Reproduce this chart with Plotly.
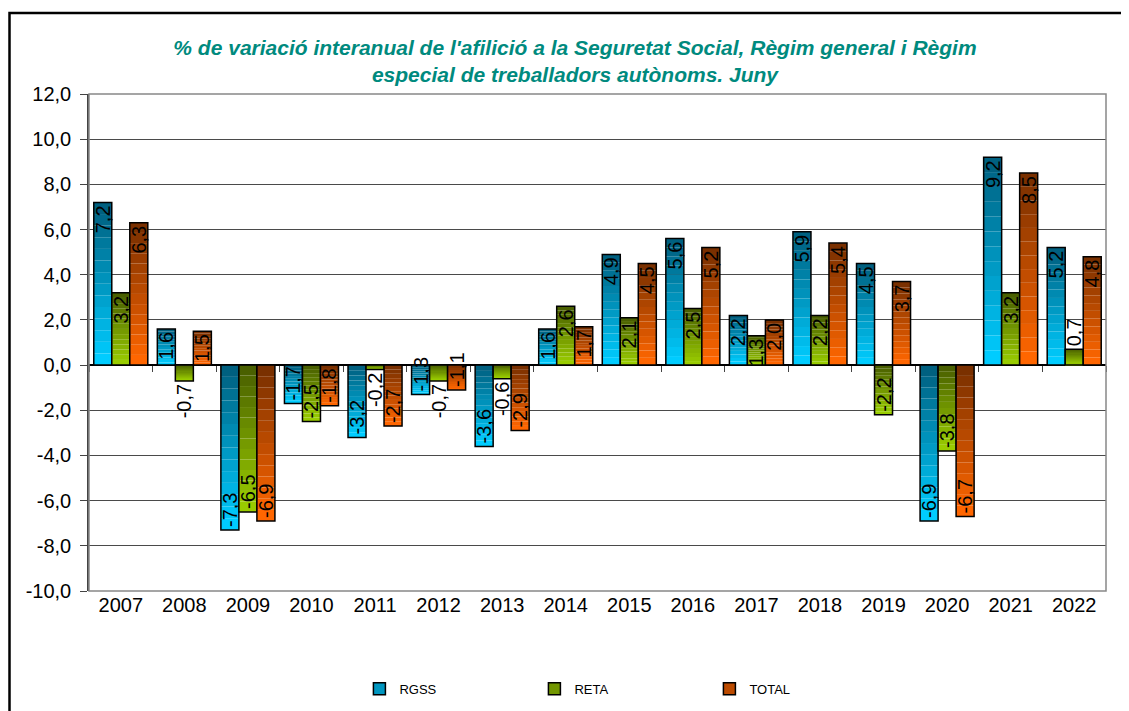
import plotly.graph_objects as go

years = ["2007", "2008", "2009", "2010", "2011", "2012", "2013", "2014",
         "2015", "2016", "2017", "2018", "2019", "2020", "2021", "2022"]
rgss = [7.2, 1.6, -7.3, -1.7, -3.2, -1.3, -3.6, 1.6, 4.9, 5.6, 2.2, 5.9, 4.5, -6.9, 9.2, 5.2]
reta = [3.2, -0.7, -6.5, -2.5, -0.2, -0.7, -0.6, 2.6, 2.1, 2.5, 1.3, 2.2, -2.2, -3.8, 3.2, 0.7]
total = [6.3, 1.5, -6.9, -1.8, -2.7, -1.1, -2.9, 1.7, 4.5, 5.2, 2.0, 5.4, 3.7, -6.7, 8.5, 4.8]
y_ticks = [-10, -8, -6, -4, -2, 0, 2, 4, 6, 8, 10, 12]
y_tick_labels = ["-10,0", "-8,0", "-6,0", "-4,0", "-2,0", "0,0",
                 "2,0", "4,0", "6,0", "8,0", "10,0", "12,0"]

series = [
    ("RGSS", rgss, (0, 96, 128), (0, 204, 255)),
    ("RETA", reta, (74, 96, 0), (153, 204, 0)),
    ("TOTAL", total, (122, 48, 0), (255, 102, 0)),
]

N = 14
fig = go.Figure()


def mix(c1, c2, t):
    return "rgb(%d,%d,%d)" % tuple(round(a + (b - a) * t) for a, b in zip(c1, c2))


LF = "Liberation Sans, Arial, sans-serif"

for name, vals, dark, light in series:
    # vertical gradient: dark at top of each bar, light at bottom
    for k in range(N):
        bases = [v * (N - k - 1) / N if v >= 0 else v * k / N for v in vals]
        seg = [v / N for v in vals]
        fig.add_trace(go.Bar(
            x=years, y=seg, base=bases, offsetgroup=name,
            marker=dict(color=mix(dark, light, k / (N - 1)), line=dict(width=0)),
            showlegend=False, hoverinfo="skip",
        ))
    # outline + labels
    fig.add_trace(go.Bar(
        x=years, y=vals, offsetgroup=name, name=name,
        marker=dict(color="rgba(0,0,0,0)", line=dict(color="black", width=1.5)),
        text=[("%.1f" % v).replace(".", ",") for v in vals],
        textposition=["outside" if abs(v) < 1.0 else "inside" for v in vals],
        insidetextanchor="end", textangle=-90,
        constraintext="none", cliponaxis=False,
        insidetextfont=dict(color="black", size=20, family=LF),
        outsidetextfont=dict(color="black", size=20, family=LF),
        showlegend=False,
    ))
    # legend entry (also carries the category ticks along the zero line)
    fig.add_trace(go.Bar(
        x=years, y=[None] * len(years), offsetgroup=name, name=name,
        xaxis="x2",
        marker=dict(color=mix(dark, light, 0.5), line=dict(color="black", width=1.5)),
        showlegend=True,
    ))

W, H = 1121, 703
L, R, T, B = 81, 23, 86, 120
pw, ph = W - L - R, H - T - B

fig.update_layout(
    width=W, height=H,
    paper_bgcolor="white", plot_bgcolor="white",
    barmode="group", bargap=0.15, bargroupgap=0,
    separators=",.",
    margin=dict(l=L, r=R, t=T, b=B, autoexpand=False),
    font=dict(family=LF, color="black"),
    title=dict(
        text="<b><i>% de variació interanual de l'afilició a la Seguretat Social, Règim general i Règim<br>especial de treballadors autònoms. Juny</i></b>",
        font=dict(size=21, color="#008a7e", family=LF),
        x=(575 - 8) / W, xanchor="center", y=0.933, yanchor="middle",
    ),
    xaxis=dict(type="category", tickfont=dict(size=20), showgrid=False,
               showline=False, ticks=""),
    xaxis2=dict(type="category", overlaying="x", matches="x", anchor="free",
                position=10 / 22, side="bottom", showticklabels=False,
                showgrid=False, showline=False, ticks="outside",
                tickson="boundaries", ticklen=6, tickcolor="#444444"),
    yaxis=dict(range=[-10, 12], tickmode="array", tickvals=y_ticks,
               ticktext=y_tick_labels, ticklabelstandoff=5,
               tickfont=dict(size=20), showgrid=True, gridcolor="#4a4a4a", gridwidth=1,
               zeroline=True, zerolinecolor="black", zerolinewidth=1.5,
               showline=True, linecolor="#444444", linewidth=1.5,
               ticks="outside", ticklen=7, tickcolor="#444444"),
    legend=dict(orientation="h", x=0.524, xanchor="center", y=-0.197, yanchor="middle",
                font=dict(size=13), entrywidth=130, itemwidth=30,
                traceorder="normal"),
    shapes=[
        dict(type="rect", xref="paper", yref="paper", x0=0, x1=1, y0=0, y1=1,
             line=dict(color="#888888", width=1.5)),
        dict(type="rect", xref="paper", yref="paper",
             x0=(1.5 - L) / pw, x1=1.05, y0=-0.3, y1=(H - 5 - B) / ph,
             line=dict(color="black", width=2.5)),
    ],
)

fig.write_html("out.html")
